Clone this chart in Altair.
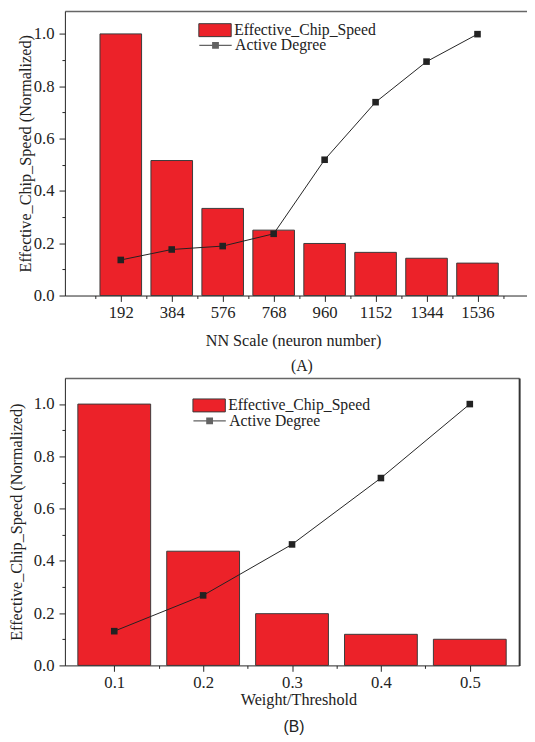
import altair as alt
import pandas as pd

# ---------------- data ----------------
nn_scale = [192, 384, 576, 768, 960, 1152, 1344, 1536]
speed_a = [1.0, 0.516, 0.333, 0.25, 0.199, 0.165, 0.1425, 0.124]
active_a = [0.136, 0.176, 0.189, 0.236, 0.519, 0.739, 0.894, 0.999]

weight_thr = [0.1, 0.2, 0.3, 0.4, 0.5]
speed_b = [1.0, 0.437, 0.198, 0.119, 0.100]
active_b = [0.131, 0.268, 0.463, 0.717, 1.0]

x_minor_a = [96, 288, 480, 672, 864, 1056, 1248, 1440, 1632]
x_minor_b = [0.15, 0.25, 0.35, 0.45]
y_major = [0.0, 0.2, 0.4, 0.6, 0.8, 1.0]
y_minor = [0.1, 0.3, 0.5, 0.7, 0.9]

SERIES_BAR = "Effective_Chip_Speed"
SERIES_LINE = "Active Degree"
YTITLE = "Effective_Chip_Speed (Normalized)"

RED = "#EC2229"
EDGE = "#3a3a3a"
INK = "#222222"
SERIF = "Liberation Serif"

RECT_PATH = "M-1,-0.4H1V0.4H-1Z"
LINE_PATH = "M-1,-0.035H1V0.035H-1Z M-0.21,-0.21H0.21V0.21H-0.21Z"

AX = dict(labelFont=SERIF, labelFontSize=17, labelColor=INK,
          titleFont=SERIF, titleFontSize=16.5, titleFontWeight="normal",
          titleColor=INK, tickColor=INK, domainColor=INK, tickWidth=1,
          domainWidth=1, grid=False)


def panel(xs, speed, active, xdomain, ymax, width, height, xmajor, xminor, xfmt,
          xtitle, xtitle_x, bar_size, leg_x, leg_y1, leg_y2, lab_pad, x_title_pad,
          y_title_pad, title_text, title_font, title_offset, title_dx, right_border):
    df = pd.DataFrame({"x": xs, "speed": speed, "active": active})
    base = alt.Chart(df)
    xs_scale = alt.Scale(domain=xdomain, nice=False, zero=False)
    ys_scale = alt.Scale(domain=[0, ymax], nice=False)

    bars = base.transform_calculate(s1=f"'{SERIES_BAR}'").mark_bar(
        size=bar_size, stroke=EDGE, strokeWidth=1
    ).encode(
        x=alt.X("x:Q", scale=xs_scale,
                axis=alt.Axis(orient="bottom", values=xmajor, format=xfmt,
                              tickSize=6, labelPadding=lab_pad, title=xtitle,
                              titlePadding=x_title_pad, titleX=xtitle_x,
                              labelFlush=False, labelOverlap=False, **AX)),
        y=alt.Y("speed:Q", scale=ys_scale,
                axis=alt.Axis(orient="left", values=y_major, format=".1f",
                              tickSize=6, labelPadding=5, title=YTITLE,
                              titlePadding=y_title_pad, labelFlush=False,
                              labelOverlap=False, **AX)),
        color=alt.Color("s1:N",
                        scale=alt.Scale(domain=[SERIES_BAR], range=[RED]),
                        legend=alt.Legend(orient="none", legendX=leg_x, legendY=leg_y1,
                                          title=None, symbolType=RECT_PATH,
                                          symbolSize=1089, symbolStrokeColor=EDGE,
                                          symbolStrokeWidth=1, symbolFillColor=RED,
                                          labelFont=SERIF, labelFontSize=16,
                                          labelColor=INK, labelOffset=2.5,
                                          padding=0)),
    )

    line = base.mark_line(color=INK, strokeWidth=1).encode(
        x=alt.X("x:Q", scale=xs_scale, axis=None),
        y=alt.Y("active:Q", scale=ys_scale, axis=None),
    )
    pts = base.mark_point(shape="square", filled=True, size=45, color=INK, opacity=1).encode(
        x=alt.X("x:Q", scale=xs_scale, axis=None),
        y=alt.Y("active:Q", scale=ys_scale, axis=None),
    )

    minor = base.transform_filter("false").mark_point().encode(
        x=alt.X("x:Q", scale=xs_scale,
                axis=alt.Axis(orient="bottom", values=xminor, labels=False,
                              domain=False, tickSize=3, title=None,
                              tickColor=INK, tickWidth=1, grid=False)),
        y=alt.Y("speed:Q", scale=ys_scale,
                axis=alt.Axis(orient="left", values=y_minor, labels=False,
                              domain=False, tickSize=3, title=None,
                              tickColor=INK, tickWidth=1, grid=False)),
    )

    if right_border:
        y_frame = alt.Y("speed:Q", scale=ys_scale,
                        axis=alt.Axis(orient="right", labels=False, ticks=False,
                                      domain=True, domainColor="#333333",
                                      domainWidth=2, title=None, grid=False))
    else:
        y_frame = alt.Y("speed:Q", scale=ys_scale, axis=None)
    frame = base.transform_filter("false").mark_point().encode(
        x=alt.X("x:Q", scale=xs_scale,
                axis=alt.Axis(orient="top", labels=False, ticks=False,
                              domain=True, domainColor="#666666", domainWidth=1.5,
                              title=None, grid=False)),
        y=y_frame,
    )

    leg_line = base.transform_filter("false").transform_calculate(
        s2=f"'{SERIES_LINE}'"
    ).mark_point(filled=True, color=INK).encode(
        x=alt.X("x:Q", scale=xs_scale, axis=None),
        y=alt.Y("active:Q", scale=ys_scale, axis=None),
        shape=alt.Shape("s2:N",
                        scale=alt.Scale(domain=[SERIES_LINE], range=[LINE_PATH]),
                        legend=alt.Legend(orient="none", legendX=leg_x, legendY=leg_y2,
                                          title=None, symbolSize=1089,
                                          symbolFillColor=INK,
                                          labelFont=SERIF, labelFontSize=16,
                                          labelColor=INK, labelOffset=2.5,
                                          padding=0)),
    )

    layer = alt.layer(bars, line, pts, minor, frame, leg_line).resolve_axis(
        x="independent", y="independent"
    ).resolve_legend(color="independent", shape="independent").properties(
        width=width, height=height,
        title=alt.TitleParams(title_text, orient="bottom", font=title_font,
                              fontSize=16, fontWeight="normal", color=INK,
                              offset=title_offset, dx=title_dx),
    )
    return layer


top = panel(nn_scale, speed_a, active_a, [0, 1704], 1.0874, 471, 290, nn_scale,
            x_minor_a, "d", "NN Scale (neuron number)", 232.5, 42.4, 136, 2.5, 17.5,
            3.8, 11.7, -0.5, "(A)", SERIF, 10, 6, False)
bottom = panel(weight_thr, speed_b, active_b, [0.05, 0.55], 1.1, 463, 293, weight_thr,
               x_minor_b, ".1f", "Weight/Threshold", 238, 74.2, 130, 11, 26.3,
               3.5, 1.8, 9, "(B)", "Liberation Sans", 11.5, 2, True)

chart = alt.concat(top, bottom, columns=1, spacing=4).properties(
    align="none",
    padding={"left": 0, "top": -4, "right": 0, "bottom": 0},
).resolve_scale(
    color="independent", shape="independent", x="independent", y="independent"
).resolve_legend(color="independent", shape="independent").configure_view(
    stroke=None
)

chart.save("out.html", embed_options={"renderer": "svg", "actions": False})
